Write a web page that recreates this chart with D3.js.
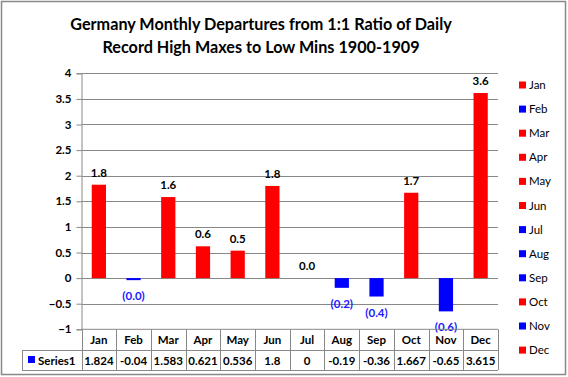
<!DOCTYPE html>
<html>
<head>
<meta charset="utf-8">
<script src="https://cdnjs.cloudflare.com/ajax/libs/d3/7.8.5/d3.min.js"></script>
<style>
  body { margin: 0; background: #fff; }
  text { font-family: Lato, "Liberation Sans", sans-serif; }
</style>
</head>
<body>
<div id="chart"></div>
<script>
// chart data
var months = ["Jan", "Feb", "Mar", "Apr", "May", "Jun", "Jul", "Aug", "Sep", "Oct", "Nov", "Dec"];
var values = [1.824, -0.04, 1.583, 0.621, 0.536, 1.8, 0, -0.19, -0.36, 1.667, -0.65, 3.615];
var tableText = ["1.824", "-0.04", "1.583", "0.621", "0.536", "1.8", "0", "-0.19", "-0.36", "1.667", "-0.65", "3.615"];
var barLabels = ["1.8", "(0.0)", "1.6", "0.6", "0.5", "1.8", "0.0", "(0.2)", "(0.4)", "1.7", "(0.6)", "3.6"];
var yTicks = [-1, -0.5, 0, 0.5, 1, 1.5, 2, 2.5, 3, 3.5, 4];
var titleLines = ["Germany Monthly Departures from 1:1 Ratio of Daily", "Record High Maxes to Low Mins 1900-1909"];

var svgWidth = 568, svgHeight = 377;
var plot = { left: 81.5, right: 498, top: 73.3, bottom: 329.3 };

var svg = d3.select("#chart").append("svg")
    .attr("width", svgWidth)
    .attr("height", svgHeight);

// outer frame
svg.append("rect")
    .attr("x", 1.5).attr("y", 1.5)
    .attr("width", svgWidth - 4).attr("height", svgHeight - 4)
    .attr("fill", "#fff").attr("stroke", "#888").attr("stroke-width", 1.5);

// title
svg.append("g").selectAll("text")
    .data(titleLines).enter()
    .append("text")
    .attr("x", 261)
    .attr("y", function(d, i) { return 30 + i * 22.5; })
    .attr("text-anchor", "middle")
    .attr("font-size", "16.2px")
    .attr("font-weight", "bold")
    .text(function(d) { return d; });

var x = d3.scaleBand().domain(months).range([plot.left, plot.right]).paddingInner(0).paddingOuter(0);
var y = d3.scaleLinear().domain([-1, 4]).range([plot.bottom, plot.top]);

// gridlines
svg.append("g").selectAll("line")
    .data(yTicks.filter(function(d) { return d > -1; })).enter()
    .append("line")
    .attr("x1", plot.left).attr("x2", plot.right)
    .attr("y1", function(d) { return Math.round(y(d)) + 0.5; })
    .attr("y2", function(d) { return Math.round(y(d)) + 0.5; })
    .attr("stroke", "#888").attr("stroke-width", 1);

// y axis
var yAxis = svg.append("g")
    .attr("transform", "translate(" + plot.left + ",0)")
    .call(d3.axisLeft(y).tickValues(yTicks).tickSize(5).tickPadding(5)
        .tickFormat(function(d) { return d3.format("")(d); }));
yAxis.select(".domain").attr("stroke", "#888");
yAxis.selectAll(".tick line").attr("stroke", "#888");
yAxis.selectAll(".tick text")
    .attr("font-size", "11.5px").attr("font-weight", "bold").attr("fill", "#000")
    .style("font-family", "Lato, sans-serif");

// bars
var barW = x.bandwidth() * 0.41;
svg.append("g").selectAll("rect")
    .data(values).enter()
    .append("rect")
    .attr("x", function(d, i) { return x(months[i]) + (x.bandwidth() - barW) / 2; })
    .attr("y", function(d) { return y(Math.max(0, d)); })
    .attr("width", barW)
    .attr("height", function(d) { return Math.abs(y(d) - y(0)); })
    .attr("fill", function(d) { return d > 0 ? "#ff0000" : "#0000ff"; });

// bar labels
svg.append("g").selectAll("text")
    .data(values).enter()
    .append("text")
    .attr("x", function(d, i) { return x(months[i]) + x.bandwidth() / 2; })
    .attr("y", function(d) { return d >= 0 ? y(d) - 8 : y(d) + 20; })
    .attr("text-anchor", "middle")
    .attr("font-size", "11.5px")
    .attr("font-weight", "bold")
    .attr("fill", function(d) { return d >= 0 ? "#000" : "#1a1aff"; })
    .text(function(d, i) { return barLabels[i]; });

// data table
var row1 = plot.bottom, row2 = 350, row3 = 370, tableLeft = 22;
var tbl = svg.append("g").attr("stroke", "#888").attr("stroke-width", 1);
tbl.append("line").attr("x1", plot.left).attr("x2", plot.right).attr("y1", row1).attr("y2", row1);
tbl.append("line").attr("x1", tableLeft).attr("x2", plot.right).attr("y1", row2 + 0.5).attr("y2", row2 + 0.5);
tbl.append("line").attr("x1", tableLeft).attr("x2", plot.right).attr("y1", row3 + 0.5).attr("y2", row3 + 0.5);
tbl.append("line").attr("x1", tableLeft + 0.5).attr("x2", tableLeft + 0.5).attr("y1", row2).attr("y2", row3);
tbl.selectAll(".vline")
    .data(months.concat(["end"])).enter()
    .append("line")
    .attr("x1", function(d, i) { return Math.round(plot.left + i * x.bandwidth()) + 0.5; })
    .attr("x2", function(d, i) { return Math.round(plot.left + i * x.bandwidth()) + 0.5; })
    .attr("y1", row1).attr("y2", row3);

svg.append("g").selectAll("text")
    .data(months).enter()
    .append("text")
    .attr("x", function(d) { return x(d) + x.bandwidth() / 2; })
    .attr("y", row1 + 15)
    .attr("text-anchor", "middle")
    .attr("font-size", "11.5px").attr("font-weight", "bold")
    .text(function(d) { return d; });

svg.append("g").selectAll("text")
    .data(tableText).enter()
    .append("text")
    .attr("x", function(d, i) { return x(months[i]) + x.bandwidth() / 2; })
    .attr("y", row2 + 15)
    .attr("text-anchor", "middle")
    .attr("font-size", "11.5px").attr("font-weight", "bold")
    .text(function(d) { return d; });

svg.append("rect").attr("x", 28).attr("y", row2 + 6).attr("width", 7).attr("height", 7).attr("fill", "#0000ff");
svg.append("text").attr("x", 38).attr("y", row2 + 15)
    .attr("font-size", "11.5px").attr("font-weight", "bold").text("Series1");

// legend
var legend = svg.append("g").selectAll("g")
    .data(months).enter()
    .append("g")
    .attr("transform", function(d, i) { return "translate(519," + (85 + i * 24.1) + ")"; });
legend.append("rect")
    .attr("x", 0).attr("y", -3.5).attr("width", 7).attr("height", 7)
    .attr("fill", function(d, i) { return values[i] > 0 ? "#ff0000" : "#0000ff"; });
legend.append("text")
    .attr("x", 10).attr("y", 4)
    .attr("font-size", "11.5px")
    .text(function(d) { return d; });
</script>
</body>
</html>
